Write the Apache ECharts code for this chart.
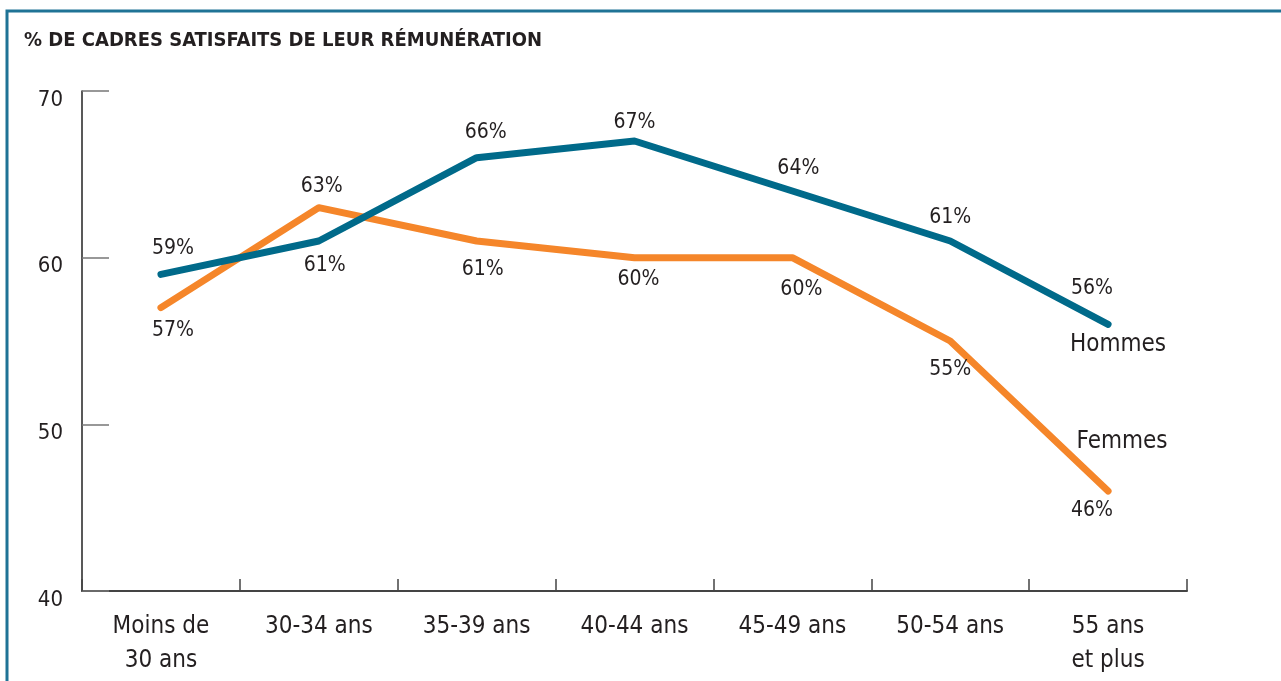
<!DOCTYPE html>
<html>
<head>
<meta charset="utf-8">
<script src="https://cdn.jsdelivr.net/npm/echarts@6/dist/echarts.min.js"></script>
<style>
  html, body { margin: 0; padding: 0; background: #fff; }
  #chart { width: 1281px; height: 681px; }
</style>
</head>
<body>
<div id="chart"></div>
<script>
// données
const categories = ['Moins de\n30 ans', '30-34 ans', '35-39 ans', '40-44 ans', '45-49 ans', '50-54 ans', '55 ans\net plus'];
const hommes = [59, 61, 66, 67, 64, 61, 56];
const femmes = [57, 63, 61, 60, 60, 55, 46];
const seriesNames = ['Hommes', 'Femmes'];
const title = '% DE CADRES SATISFAITS DE LEUR RÉMUNÉRATION';

// placement des étiquettes (décalage par rapport au point)
const hommesLabelPos = [[12, -26], [6, 25], [9, -25], [0, -18], [6, -22], [0, -23], [-16, -36]];
const femmesLabelPos = [[12, 23], [3, -21], [6, 29], [4, 22], [9, 32], [0, 29], [-16, 20]];

const font = '"DejaVu Sans Condensed", "DejaVu Sans", sans-serif';
const textColor = '#231f20';

function buildData(values, pos) {
  let out = [];
  for (let i = 0; i < values.length; i++) {
    out.push({
      value: values[i],
      label: { offset: pos[i] }
    });
  }
  return out;
}

function lastPoint(values) {
  let i = values.length - 1;
  return [categories[i], values[i]];
}

let myChart = echarts.init(document.getElementById('chart'));
let option = {
  animation: false,
  backgroundColor: '#fff',
  title: {
    text: title,
    left: 19,
    top: 26,
    textStyle: {
      fontFamily: font,
      fontWeight: 'bold',
      fontSize: 20,
      color: textColor
    }
  },
  graphic: [{
    type: 'polyline',
    shape: { points: [[7, 681], [7, 11], [1281, 11]] },
    style: { stroke: '#1f7396', lineWidth: 3, fill: null }
  }],
  grid: {
    left: 82,
    right: 94,
    top: 91,
    bottom: 90
  },
  xAxis: {
    type: 'category',
    data: categories,
    boundaryGap: true,
    axisLine: { show: true, lineStyle: { color: '#444', width: 2 } },
    axisTick: { show: true, inside: true, length: 12, interval: 0, lineStyle: { color: '#444', width: 1.5 } },
    axisLabel: {
      interval: 0,
      margin: 19,
      fontFamily: font,
      fontSize: 24,
      lineHeight: 34,
      color: textColor
    }
  },
  yAxis: {
    type: 'value',
    min: 40,
    max: 70,
    interval: 10,
    splitLine: { show: false },
    axisLine: { show: true, lineStyle: { color: '#222', width: 1.5 } },
    axisTick: { show: true, inside: true, length: 27, lineStyle: { color: '#777', width: 1.5 } },
    axisLabel: {
      margin: 19,
      fontFamily: font,
      fontSize: 22,
      lineHeight: 18,
      verticalAlign: 'top',
      color: textColor
    }
  },
  series: [{
    name: seriesNames[1],
    type: 'line',
    data: buildData(femmes, femmesLabelPos),
    symbol: 'circle',
    symbolSize: 1,
    z: 2,
    lineStyle: { color: '#f5862a', width: 7, cap: 'round', join: 'round' },
    itemStyle: { color: '#f5862a' },
    label: {
      show: true,
      position: 'inside',
      formatter: '{c}%',
      fontFamily: font,
      fontSize: 21,
      color: textColor
    },
    markPoint: {
      symbol: 'circle',
      symbolSize: 1,
      itemStyle: { color: 'rgba(0,0,0,0)' },
      label: {
        show: true,
        position: 'inside',
        offset: [14, -49],
        formatter: seriesNames[1],
        fontFamily: font,
        fontSize: 24,
        color: textColor
      },
      data: [{ coord: lastPoint(femmes) }]
    }
  }, {
    name: seriesNames[0],
    type: 'line',
    data: buildData(hommes, hommesLabelPos),
    symbol: 'circle',
    symbolSize: 1,
    z: 3,
    lineStyle: { color: '#006a8a', width: 7, cap: 'round', join: 'round' },
    itemStyle: { color: '#006a8a' },
    label: {
      show: true,
      position: 'inside',
      formatter: '{c}%',
      fontFamily: font,
      fontSize: 21,
      color: textColor
    },
    markPoint: {
      symbol: 'circle',
      symbolSize: 1,
      itemStyle: { color: 'rgba(0,0,0,0)' },
      label: {
        show: true,
        position: 'inside',
        offset: [10, 20],
        formatter: seriesNames[0],
        fontFamily: font,
        fontSize: 24,
        color: textColor
      },
      data: [{ coord: lastPoint(hommes) }]
    }
  }]
};
myChart.setOption(option);
</script>
</body>
</html>
